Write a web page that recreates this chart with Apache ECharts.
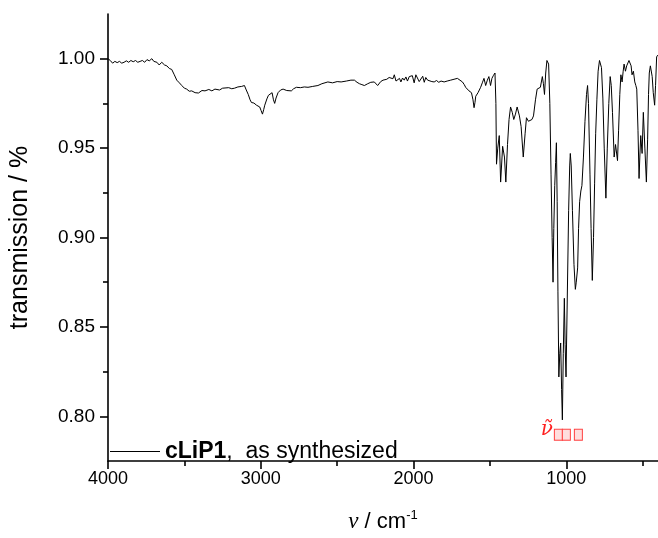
<!DOCTYPE html>
<html>
<head>
<meta charset="utf-8">
<script src="https://cdn.jsdelivr.net/npm/echarts@6/dist/echarts.min.js"></script>
<style>html,body{margin:0;padding:0;background:#fff}#c{width:658px;height:538px}</style>
</head>
<body>
<div id="c"></div>
<script>
// wavenumber (cm^-1)
const wavenumber = [
4000,3985,3970,3955,3940,3925,3910,3895,3880,3865,3850,3835,3820,3805,3790,3775,3760,3745,3730,3713,
3700,3692,3680,3665,3648,3630,3615,3598,3583,3566,3550,3533,3517,3500,3485,3468,3452,3430,3408,3385,
3365,3340,3320,3300,3270,3250,3237,3210,3190,3172,3150,3125,3107,3095,3082,3070,3061,3045,3028,3015,
3007,2998,2989,2981,2974,2960,2950,2941,2926,2917,2909,2900,2887,2870,2854,2830,2800,2785,2767,2740,
2715,2691,2660,2626,2600,2561,2530,2500,2474,2440,2410,2387,2370,2354,2338,2322,2300,2280,2257,2245,
2235,2215,2200,2191,2175,2160,2148,2135,2126,2115,2104,2092,2083,2072,2061,2050,2040,2028,2017,2008,
1996,1985,1974,1963,1952,1940,1930,1920,1908,1895,1880,1865,1850,1835,1820,1800,1780,1757,1735,1713,
1700,1680,1668,1659,1647,1637,1621,1611,1604,1598,1593,1578,1561,1550,1539,1528,1517,1507,1496,1487,
1478,1467,1461,1457,1449,1439,1430,1417,1405,1396,1385,1375,1365,1354,1344,1333,1322,1307,1296,1282,
1270,1261,1248,1235,1225,1215,1202,1191,1180,1170,1157,1150,1143,1135,1127,1122,1116,1108,1100,1093,
1087,1082,1076,1070,1065,1060,1055,1049,1043,1037,1031,1026,1020,1013,1008,1002,995,985,978,974,
968,960,950,941,935,926,920,913,905,898,888,878,868,861,855,845,838,830,822,815,
808,800,792,783,776,770,761,752,741,732,722,713,706,698,687,678,665,658,650,643,
635,628,622,613,605,600,590,583,576,570,561,552,545,539,531,524,519,513,504,496,
486,476,468,462,457,450,446,438,431,422,416,409,402
];
// transmission values
const transmission = [
1.000,0.999,0.9975,0.9985,0.9978,0.9985,0.9975,0.998,0.9988,0.998,0.999,0.9983,0.999,0.998,0.9985,0.999,0.998,0.9995,0.9988,1.000,
0.9985,0.9995,0.998,0.9965,0.998,0.9965,0.996,0.9945,0.994,0.991,0.988,0.9865,0.985,0.9835,0.983,0.9818,0.982,0.981,0.9808,0.9822,
0.982,0.9828,0.982,0.983,0.9825,0.9835,0.983,0.9838,0.9832,0.9835,0.9842,0.9845,0.985,0.9825,0.980,0.977,0.9755,0.9752,0.974,0.9735,
0.973,0.971,0.969,0.9715,0.974,0.9775,0.9795,0.980,0.981,0.977,0.975,0.978,0.981,0.9825,0.983,0.9822,0.982,0.9832,0.984,0.9838,
0.9842,0.984,0.9845,0.985,0.986,0.987,0.9865,0.9872,0.987,0.9875,0.988,0.988,0.9868,0.986,0.9855,0.985,0.986,0.9868,0.987,0.9862,
0.985,0.9872,0.988,0.989,0.9885,0.9895,0.990,0.9888,0.991,0.9875,0.9865,0.989,0.987,0.9892,0.988,0.9898,0.9875,0.990,0.989,0.9905,
0.9865,0.991,0.990,0.9872,0.988,0.9902,0.9868,0.9895,0.988,0.9885,0.9872,0.987,0.9878,0.9868,0.9875,0.987,0.9875,0.988,0.9885,0.989,
0.9882,0.987,0.9855,0.984,0.9835,0.982,0.981,0.977,0.9726,0.9755,0.979,0.981,0.984,0.9865,0.989,0.985,0.988,0.990,0.985,0.989,
0.9905,0.992,0.975,0.941,0.950,0.957,0.931,0.951,0.945,0.931,0.952,0.966,0.973,0.970,0.966,0.969,0.973,0.968,0.962,0.945,
0.958,0.967,0.965,0.964,0.966,0.968,0.977,0.983,0.9835,0.984,0.990,0.986,0.980,0.992,0.999,1.000,0.997,0.975,0.935,0.900,
0.875,0.905,0.929,0.942,0.953,0.920,0.870,0.822,0.835,0.841,0.815,0.798,0.835,0.866,0.840,0.822,0.860,0.915,0.940,0.947,
0.940,0.915,0.885,0.871,0.875,0.883,0.905,0.920,0.926,0.929,0.945,0.965,0.980,0.985,0.975,0.935,0.905,0.876,0.900,0.930,
0.958,0.977,0.993,0.999,1.000,0.995,0.978,0.950,0.922,0.950,0.975,0.990,0.985,0.970,0.945,0.952,0.943,0.960,0.980,0.991,
0.987,0.993,0.997,0.993,0.996,0.995,0.999,1.000,0.996,0.991,0.993,0.987,0.985,0.983,0.960,0.933,0.945,0.957,0.947,0.970,
0.950,0.931,0.955,0.980,0.992,0.996,0.997,0.990,0.981,0.974,0.985,1.001,1.002
];
const xMajorTicks = [4000, 3000, 2000, 1000];
const xMinorTicks = [3500, 2500, 1500, 500];
const yMajorTicks = [0.80, 0.85, 0.90, 0.95, 1.00];
const yMinorTicks = [0.825, 0.875, 0.925, 0.975];
const xRange = [400, 4000];
const yRange = [0.775, 1.025];
const seriesName = 'cLiP1';
const annotation = { x: 1033, y: 0.7925 };

const chart = echarts.init(document.getElementById('c'), null, {renderer: 'canvas'});
const axisColor = '#000';
const font = 'Arial, "Liberation Sans", sans-serif';
const serif = '"DejaVu Serif", "Liberation Serif", serif';
const data = wavenumber.map((w, i) => [w, transmission[i]]);

chart.setOption({
  animation: false,
  backgroundColor: '#fff',
  grid: { left: 106, right: 0, top: 14, bottom: 74, containLabel: false },
  legend: {
    data: [seriesName],
    left: 110, top: 440, padding: 0,
    icon: 'rect', itemWidth: 50, itemHeight: 1.2,
    itemStyle: { color: '#000' },
    formatter: () => '{b|cLiP1},  as synthesized',
    textStyle: {
      fontFamily: font, fontSize: 23, color: '#000',
      rich: { b: { fontFamily: font, fontSize: 23, fontWeight: 'bold', color: '#000' } }
    }
  },
  xAxis: [{
    type: 'value', min: xRange[0], max: xRange[1], inverse: true,
    name: '{v|ν} / cm{s|-1}', nameLocation: 'middle', nameGap: 48,
    nameTextStyle: {
      fontFamily: font, fontSize: 22, color: '#000',
      rich: {
        v: { fontFamily: '"Liberation Serif", "Times New Roman", serif', fontStyle: 'italic', fontSize: 23, color: '#000' },
        s: { fontFamily: font, fontSize: 13, color: '#000', verticalAlign: 'top', padding: [0, 0, 12, 0] }
      }
    },
    axisLine: { show: true, onZero: false, lineStyle: { color: axisColor, width: 1.6 } },
    axisTick: { show: true, length: 8, customValues: xMajorTicks, lineStyle: { color: axisColor, width: 1.6 } },
    axisLabel: { show: true, customValues: xMajorTicks, margin: 9, fontFamily: font, fontSize: 18, color: '#000',
      formatter: v => String(v) },
    splitLine: { show: false }
  }, {
    type: 'value', min: xRange[0], max: xRange[1], inverse: true, position: 'bottom',
    axisLine: { show: false },
    axisTick: { show: true, length: 5, customValues: xMinorTicks, lineStyle: { color: axisColor, width: 1.6 } },
    axisLabel: { show: false },
    splitLine: { show: false }
  }],
  yAxis: [{
    type: 'value', min: yRange[0], max: yRange[1],
    name: 'transmission / %', nameLocation: 'middle', nameGap: 75, nameRotate: 90,
    nameTextStyle: { fontFamily: font, fontSize: 25, color: '#000' },
    axisLine: { show: true, onZero: false, lineStyle: { color: axisColor, width: 1.6 } },
    axisTick: { show: true, length: 8, customValues: yMajorTicks, lineStyle: { color: axisColor, width: 1.6 } },
    axisLabel: { show: true, customValues: yMajorTicks, margin: 13, fontFamily: font, fontSize: 19, color: '#000',
      formatter: v => v.toFixed(2) },
    splitLine: { show: false }
  }, {
    type: 'value', min: yRange[0], max: yRange[1], position: 'left',
    axisLine: { show: false },
    axisTick: { show: true, length: 5, customValues: yMinorTicks, lineStyle: { color: axisColor, width: 1.6 } },
    axisLabel: { show: false },
    splitLine: { show: false }
  }],
  series: [{
    name: seriesName, type: 'line', data: data,
    xAxisIndex: 0, yAxisIndex: 0,
    showSymbol: false, symbol: 'none', smooth: false,
    lineStyle: { color: '#000', width: 1 },
    itemStyle: { color: '#000' },
    markPoint: {
      symbol: 'circle', symbolSize: 0,
      data: [{ coord: [annotation.x, annotation.y] }],
      label: {
        show: true, position: 'inside',
        formatter: '{v|ν\u0303}{g|\u00a0}{b|\u00a0}{h|\u00a0}{b|\u00a0}{s|\u00a0}{b|\u00a0}',
        rich: {
          v: { fontFamily: serif, fontStyle: 'italic', fontSize: 20, color: '#ff2020' },
          b: { width: 7, height: 10, borderColor: '#ff4040', borderWidth: 1, backgroundColor: '#ffdede', fontSize: 8, verticalAlign: 'bottom' },
          g: { width: 2, height: 10, fontSize: 8 },
          h: { width: 1, height: 10, fontSize: 8 },
          s: { width: 5, height: 10, fontSize: 8 }
        }
      }
    }
  }]
});
</script>
</body>
</html>
